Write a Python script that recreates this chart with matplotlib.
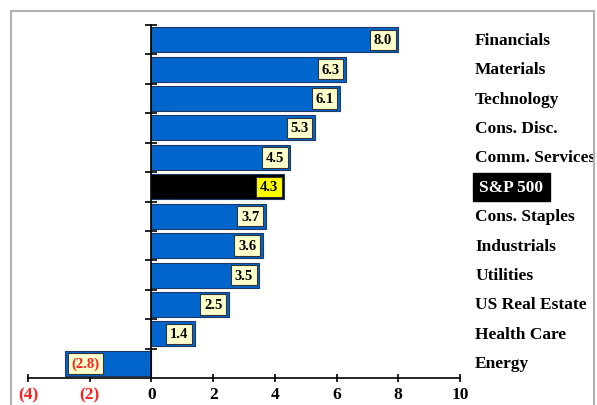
import matplotlib.pyplot as plt
from matplotlib.patches import Rectangle
import matplotlib.transforms as mtransforms

# data
sectors = ['Financials', 'Materials', 'Technology', 'Cons. Disc.', 'Comm. Services',
           'S&P 500', 'Cons. Staples', 'Industrials', 'Utilities', 'US Real Estate',
           'Health Care', 'Energy']
values = [8.0, 6.3, 6.1, 5.3, 4.5, 4.3, 3.7, 3.6, 3.5, 2.5, 1.4, -2.8]
xticks = [-4, -2, 0, 2, 4, 6, 8, 10]
xticklabels = ['(4)', '(2)', '0', '2', '4', '6', '8', '10']

plt.rcParams['font.family'] = ['Liberation Serif', 'DejaVu Serif']
plt.rcParams['font.weight'] = 'bold'

fig = plt.figure(figsize=(5.97, 4.06), dpi=100)
fig.patches.append(Rectangle((11 / 597, -0.1), (594 - 11) / 597, 1.1 - 12 / 406,
                             transform=fig.transFigure, fill=False,
                             edgecolor='#b0b0b0', linewidth=1.5))
ax = fig.add_axes([28 / 597, 1 - 379 / 406, 432 / 597, (379 - 26) / 406])

ypos = list(range(len(sectors)))
colors = ['black' if s == 'S&P 500' else '#0066cc' for s in sectors]
ax.barh(ypos, values, height=0.85, color=colors, edgecolor='#1f3864', linewidth=0.8, zorder=2)

ax.set_xlim(-4, 10)
ax.set_ylim(11.5, -0.5)

for y, v, s in zip(ypos, values, sectors):
    if v >= 0:
        txt = f'{v:.1f}'
        face = '#ffff00' if s == 'S&P 500' else '#ffffcc'
        ax.annotate(txt, (v, y), xytext=(-4.5, 0), textcoords='offset points',
                    ha='right', va='center', fontsize=10.5, fontweight='bold', color='black',
                    bbox=dict(boxstyle='square,pad=0.25', facecolor=face,
                              edgecolor='#333333', linewidth=0.8), zorder=3)
    else:
        txt = f'({abs(v):.1f})'
        ax.annotate(txt, (v, y), xytext=(4.5, 0), textcoords='offset points',
                    ha='left', va='center', fontsize=10.5, fontweight='bold', color='#ff2020',
                    bbox=dict(boxstyle='square,pad=0.25', facecolor='#ffffcc',
                              edgecolor='#333333', linewidth=0.8), zorder=3)

# category labels on the right
trans = mtransforms.blended_transform_factory(ax.transAxes, ax.transData)
for y, s in zip(ypos, sectors):
    if s == 'S&P 500':
        ax.text(1.045, y, s, transform=trans, ha='left', va='center', fontsize=12.5,
                fontweight='bold', color='white', clip_on=False,
                bbox=dict(boxstyle='square,pad=0.35', facecolor='black', edgecolor='black'))
    else:
        ax.text(1.035, y, s, transform=trans, ha='left', va='center', fontsize=12.5,
                fontweight='bold', color='black', clip_on=False)

# axes styling
for side in ['top', 'right']:
    ax.spines[side].set_visible(False)
ax.spines['left'].set_position(('data', 0))
ax.spines['left'].set_linewidth(1.2)
ax.spines['bottom'].set_linewidth(1.2)

ax.set_xticks(xticks)
ax.set_xticklabels(xticklabels, fontsize=12.5, fontweight='bold')
for lbl, t in zip(ax.get_xticklabels(), xticks):
    if t < 0:
        lbl.set_color('#ff2020')
ax.tick_params(axis='x', direction='inout', length=6, width=1.2, pad=3)

ax.set_yticks([i - 0.5 for i in range(len(sectors))])
ax.set_yticklabels([])
ax.tick_params(axis='y', direction='inout', length=8, width=1.2)

fig.savefig('out.png', dpi=100)
